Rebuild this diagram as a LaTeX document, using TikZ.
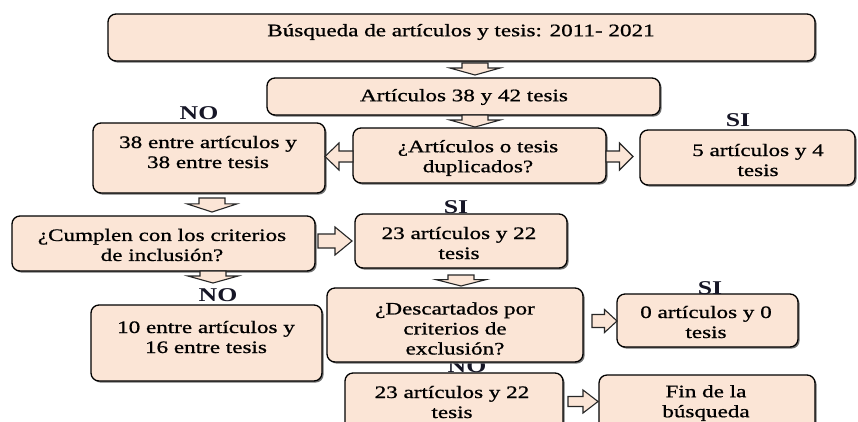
\documentclass[tikz,border=0pt]{standalone}
\usepackage{fontspec}
\setmainfont{Liberation Serif}[FakeStretch=1.32]
\newfontfamily\boxfont{Liberation Serif}[FakeStretch=1.32, FakeBold=0.9]
\usetikzlibrary{shadows,fit,calc}
\definecolor{peach}{HTML}{FBE5D6}
\definecolor{lbl}{HTML}{161626}
% block arrow pointing down, from node #1 to node #2, centred at x=#3, gaps #4/#5
\newcommand{\bdown}[5]{%
  \path[barrow] let \p1=($(#1.south)+(0,#4)$), \p2=($(#2.north)-(0,#5)$), \p3=($(\p1)!0.42!(\p2)$) in
  (#3pt-13pt,\y1) -- (#3pt+13pt,\y1) -- (#3pt+13pt,\y3) -- (#3pt+25pt,\y3) -- (#3pt,\y2)
  -- (#3pt-25pt,\y3) -- (#3pt-13pt,\y3) -- cycle;}
% horizontal block arrow from anchor #1 to anchor #2 at y=#3, x offsets #4/#5, head half #6, shaft half #7
\newcommand{\bhor}[7]{%
  \path[barrow] let \p1=($(#1)+(#4,0)$), \p2=($(#2)+(#5,0)$), \p3=($(\p1)!0.5!(\p2)$), \p4=(0,#3) in
  (\x1,\y4+#7pt) -- (\x3,\y4+#7pt) -- (\x3,\y4+#6pt) -- (\x2,\y4) -- (\x3,\y4-#6pt)
  -- (\x3,\y4-#7pt) -- (\x1,\y4-#7pt) -- cycle;}
\begin{document}
\begin{tikzpicture}[x=1pt,y=-1pt,
  box/.style={draw=black, line width=1.3pt, fill=peach, rounded corners=8pt, inner sep=0pt, outer sep=0pt,
    drop shadow={shadow xshift=1.6pt, shadow yshift=-1.6pt, fill=black!55, opacity=1}},
  txt/.style={align=center, inner sep=0pt, font=\boxfont\fontsize{17.5}{20}\selectfont},
  lab/.style={inner sep=0pt, text=lbl, font=\fontsize{19.5}{20}\selectfont\bfseries},
  barrow/.style={draw=black!85, line width=1.1pt, fill=peach, line join=miter}]
\useasboundingbox (0,0) rectangle (858,421);
\clip (0,0) rectangle (858,421);
\fill[white] (0,0) rectangle (858,421);

% labels that sit behind boxes
\node[lab] (no3) at (467,366) {NO};

% boxes
\node[box, fit={(108,14) (815,61)}] (b1) {};
\node[box, fit={(267,78) (660,115)}] (b2) {};
\node[box, fit={(93,123) (325,193)}] (b3) {};
\node[box, fit={(353,128) (606,183)}] (b4) {};
\node[box, fit={(640,130) (855,185)}] (b5) {};
\node[box, fit={(12,216) (315,271)}] (b6) {};
\node[box, fit={(355,214) (567,268)}] (b7) {};
\node[box, fit={(91,305) (322,381)}] (b8) {};
\node[box, fit={(327,288) (583,362)}] (b9) {};
\node[box, fit={(617,294) (798,347)}] (b10) {};
\node[box, fit={(345,373) (563,445)}] (b11) {};
\node[box, fit={(599,375) (815,445)}] (b12) {};

% texts
\node[txt] (t1) at (461,32) {Búsqueda de artículos y tesis: 2011- 2021};
\node[txt] (t2) at (464,97) {Artículos 38 y 42 tesis};
\node[txt] (t3) at (208,152) {38 entre artículos y\\38 entre tesis};
\node[txt] (t4) at (478,158) {¿Artículos o tesis\\duplicados?};
\node[txt] (t5) at (758,160) {5 artículos y 4\\tesis};
\node[txt] (t6) at (162,245) {¿Cumplen con los criterios\\de inclusión?};
\node[txt] (t7) at (459,243) {23 artículos y 22\\tesis};
\node[txt] (t8) at (206,337) {10 entre artículos y\\16 entre tesis};
\node[txt] (t9) at (455,328.5) {¿Descartados por\\criterios de\\exclusión?};
\node[txt] (t10) at (706,322) {0 artículos y 0\\tesis};
\node[txt] (t11) at (452,402) {23 artículos y 22\\tesis};
\node[txt] (t12) at (706,403) {Fin de la\\búsqueda};

% labels
\node[lab] (no1) at (199,113) {NO};
\node[lab] (si1) at (738,120) {SI};
\node[lab] (si2) at (456,207) {SI};
\node[lab] (no2) at (218,295) {NO};
\node[lab] (si3) at (710,288) {SI};

% block arrows
\bdown{b1}{b2}{475}{2}{3}
\bdown{b2}{b4}{475}{0}{1}
\bdown{b3}{b6}{212}{5}{4}
\bdown{b6}{b8}{213}{0}{22}
\bdown{b7}{b9}{461}{7}{2}
\bhor{b4.west}{b3.east}{156.5}{0}{0}{13.5}{5.5}
\bhor{b4.east}{b5.west}{156.5}{0}{-7}{13.5}{5.5}
\bhor{b6.east}{b7.west}{241}{3}{-3}{14}{7}
\bhor{b9.east}{b10.west}{321}{9}{0}{11.5}{6.5}
\bhor{b11.east}{b12.west}{401.5}{5}{-1}{11.5}{5}
\end{tikzpicture}
\end{document}
